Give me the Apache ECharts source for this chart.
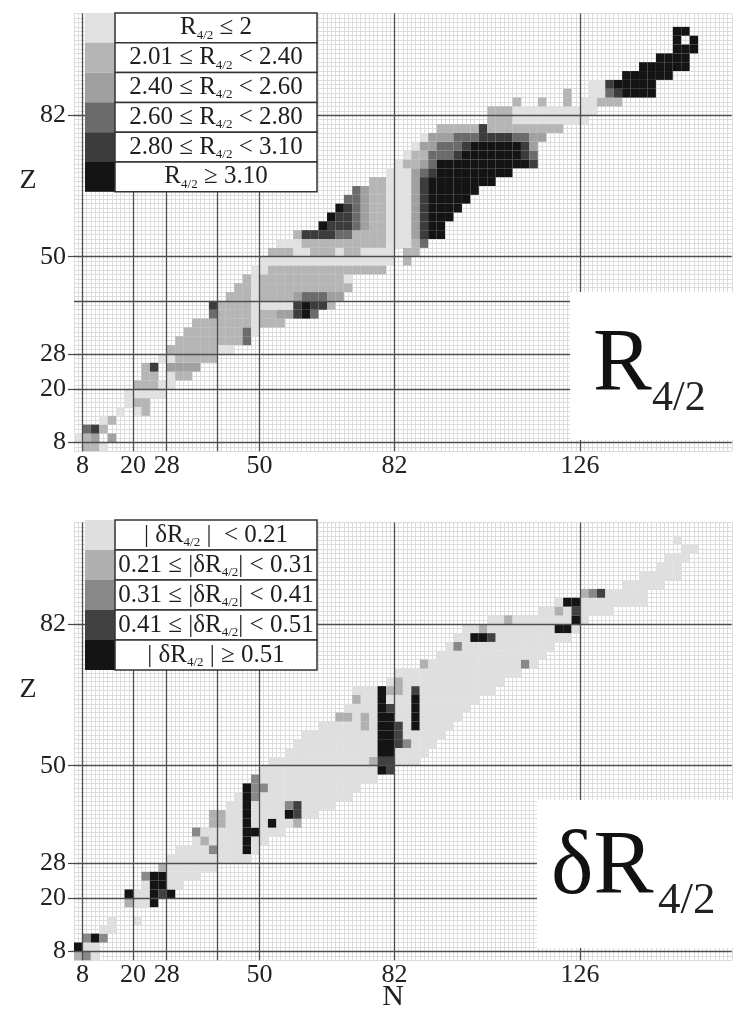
<!DOCTYPE html>
<html><head><meta charset="utf-8">
<script src="https://cdn.jsdelivr.net/npm/echarts@6/dist/echarts.min.js"></script>
<style>html,body{margin:0;padding:0;background:#fff}#c{width:734px;height:1010px}</style>
</head><body><div id="c"></div>
<script>
// ---------- tick labels / magic numbers ----------
const nLabels = [8, 20, 28, 50, 82, 126];
const zLabels = [8, 20, 28, 50, 82];
const magicN = [8, 20, 28, 40, 50, 82, 126];
const magicZTop = [8, 20, 28, 40, 50, 82];
const magicZBottom = [8, 20, 28, 50, 82];

// ---------- legend categories ----------
const r42Colors = ['#e1e1e1', '#b5b5b5', '#a0a0a0', '#6b6b6b', '#3c3c3c', '#141414'];
const r42Labels = [
  '{t|R}{s|4/2}{t| ≤ 2}',
  '{t|2.01 ≤ R}{s|4/2}{t| < 2.40}',
  '{t|2.40 ≤ R}{s|4/2}{t| < 2.60}',
  '{t|2.60 ≤ R}{s|4/2}{t| < 2.80}',
  '{t|2.80 ≤ R}{s|4/2}{t| < 3.10}',
  '{t|R}{s|4/2}{t| ≥ 3.10}'
];
const dR42Colors = ['#dfdfdf', '#b0b0b0', '#888888', '#414141', '#141414'];
const dR42Labels = [
  '{t|| δR}{s|4/2}{t| |  < 0.21}',
  '{t|0.21 ≤ |δR}{s|4/2}{t|| < 0.31}',
  '{t|0.31 ≤ |δR}{s|4/2}{t|| < 0.41}',
  '{t|0.41 ≤ |δR}{s|4/2}{t|| < 0.51}',
  '{t|| δR}{s|4/2}{t| | ≥ 0.51}'
];

// ---------- data: runs of even-even nuclei [Z-row, N from, N to (step 2), category] ----------
const r42Runs = [
 [6,8,10,1],[6,12,12,0],
 [8,6,6,0],[8,8,8,1],[8,10,10,2],[8,14,14,2],
 [10,8,8,3],[10,10,10,4],[10,12,12,1],
 [12,12,12,0],[12,14,14,1],
 [14,16,16,0],[14,20,20,0],[14,22,22,1],
 [16,18,18,0],[16,20,22,1],
 [18,18,26,0],
 [20,20,24,1],[20,26,28,0],
 [22,22,24,1],[22,28,28,0],[22,30,32,1],
 [24,22,22,1],[24,24,24,4],[24,28,34,2],
 [26,26,28,0],[26,30,38,1],
 [28,28,38,1],[28,40,42,0],
 [30,30,44,1],[30,46,46,3],
 [32,32,44,1],[32,46,46,3],[32,48,48,0],
 [34,34,46,1],[34,48,48,0],[34,50,54,1],
 [36,38,38,3],[36,40,46,1],[36,48,48,0],[36,50,52,1],[36,54,56,2],[36,58,58,4],[36,60,60,5],[36,62,62,3],
 [38,38,38,4],[38,40,46,1],[38,48,56,0],[38,58,58,4],[38,60,60,5],[38,62,64,4],[38,66,66,1],
 [40,42,46,1],[40,48,48,0],[40,50,56,1],[40,58,58,2],[40,60,64,3],[40,66,68,2],
 [42,44,46,1],[42,48,48,0],[42,50,70,1],
 [44,46,46,1],[44,48,48,0],[44,50,68,1],[44,70,70,0],
 [46,48,50,0],[46,52,72,1],[46,74,78,1],
 [48,50,80,0],[48,84,84,1],
 [50,52,56,1],[50,58,60,0],[50,62,66,1],[50,68,68,0],[50,70,72,1],[50,74,80,0],[50,84,86,1],
 [52,54,58,0],[52,60,78,1],[52,80,84,0],[52,86,86,1],[52,88,88,3],
 [54,58,58,1],[54,60,66,4],[54,68,70,3],[54,72,78,1],[54,80,84,0],[54,86,86,2],[54,88,88,4],[54,90,92,5],
 [56,64,64,5],[56,66,70,4],[56,72,72,3],[56,74,74,2],[56,76,78,1],[56,80,84,0],[56,86,86,2],[56,88,88,4],[56,90,92,5],
 [58,66,66,5],[58,68,70,4],[58,72,72,3],[58,74,74,2],[58,76,78,1],[58,80,84,0],[58,86,86,2],[58,88,88,4],[58,90,94,5],
 [60,68,68,5],[60,70,70,4],[60,72,72,3],[60,74,74,2],[60,76,78,1],[60,80,84,0],[60,86,86,2],[60,88,88,4],[60,90,96,5],
 [62,70,72,3],[62,74,74,2],[62,76,78,1],[62,80,84,0],[62,86,86,2],[62,88,88,4],[62,90,98,5],
 [64,72,72,3],[64,74,74,2],[64,76,78,1],[64,80,84,0],[64,86,86,2],[64,88,88,4],[64,90,100,5],
 [66,76,78,1],[66,80,84,0],[66,86,86,2],[66,88,88,4],[66,90,104,5],
 [68,80,84,0],[68,86,86,2],[68,88,88,3],[68,90,90,4],[68,92,108,5],
 [70,82,82,0],[70,84,86,1],[70,88,88,2],[70,90,90,3],[70,92,112,5],[70,114,114,4],
 [72,84,84,0],[72,86,88,1],[72,90,94,3],[72,96,96,4],[72,98,110,5],[72,112,112,4],[72,114,114,3],
 [74,86,86,0],[74,88,90,2],[74,92,96,3],[74,98,98,4],[74,100,110,5],[74,112,112,4],[74,114,114,2],
 [76,88,88,0],[76,90,94,2],[76,96,100,3],[76,102,108,4],[76,110,112,3],[76,114,116,2],
 [78,92,100,1],[78,102,102,4],[78,104,120,1],
 [80,104,108,1],[80,110,126,0],
 [82,104,108,1],[82,110,128,0],
 [84,110,110,1],[84,116,116,1],[84,122,122,1],[84,126,128,0],[84,130,134,1],
 [86,122,122,1],[86,128,130,0],[86,132,132,3],[86,134,134,4],[86,136,142,5],
 [88,128,130,0],[88,132,132,4],[88,134,142,5],
 [90,136,146,5],
 [92,140,150,5],
 [94,144,150,5],
 [96,148,152,5],
 [98,148,148,5],[98,152,152,5],
 [100,148,150,5]
];

const dR42Band = [
 [6,6,10,0],[8,6,10,0],[10,8,12,0],[12,12,14,0],[14,14,14,0],[14,20,20,0],
 [18,18,22,0],[20,18,28,0],[22,22,30,0],[24,22,34,0],[26,28,38,0],[28,28,46,0],
 [30,30,48,0],[32,34,50,0],[34,34,54,0],[36,38,58,0],[38,40,62,0],[40,42,66,0],
 [42,44,70,0],[44,46,72,0],[46,48,76,0],[48,50,80,0],[50,52,86,0],[52,56,88,0],
 [54,58,90,0],[56,60,92,0],[58,64,94,0],[60,68,96,0],[62,70,98,0],[64,72,100,0],
 [66,72,104,0],[68,80,106,0],[70,82,110,0],[72,88,114,0],[74,92,116,0],[76,94,118,0],
 [78,96,122,0],[80,98,124,0],[82,104,126,0],[84,116,132,0],[86,120,140,0],[88,126,140,0],
 [90,136,144,0],[92,140,148,0],[94,144,148,0],[96,146,150,0],[98,150,152,0],[100,148,148,0]
];
const dR42Marks = [
 [6,6,6,1],[6,8,8,2],[8,6,6,4],[10,8,8,2],[10,10,10,4],[10,12,12,2],
 [18,18,18,1],[18,24,24,4],[20,18,18,4],[20,24,24,4],[20,26,26,3],[20,28,28,4],
 [22,24,26,4],[24,22,22,2],[24,24,26,4],[26,26,26,1],
 [30,38,38,2],[30,46,46,4],[32,36,36,1],[32,46,46,4],[34,34,34,2],[34,46,48,4],
 [36,38,40,1],[36,46,46,4],[36,52,52,4],[36,58,58,1],
 [38,38,40,1],[38,46,46,4],[38,56,56,4],[38,58,58,3],
 [40,46,46,4],[40,56,56,2],[40,58,58,3],
 [42,46,46,4],[42,48,48,2],[44,46,46,4],[44,48,50,2],[46,48,48,2],
 [48,78,78,4],[48,80,80,3],[50,76,76,1],[50,78,80,3],
 [52,78,80,4],[54,78,80,4],[54,82,82,3],[54,84,84,2],[56,78,80,4],[56,82,82,3],
 [58,74,74,1],[58,78,80,4],[58,82,82,3],[58,86,86,4],
 [60,68,70,1],[60,74,74,1],[60,78,80,4],[60,86,86,4],
 [62,78,78,4],[62,80,80,3],[62,86,86,4],
 [64,72,72,1],[64,78,78,4],[64,86,86,4],
 [66,78,78,4],[66,80,82,1],[66,86,86,3],[68,82,82,1],
 [72,88,88,1],[72,112,112,2],[76,96,96,2],
 [78,100,102,4],[78,104,104,3],
 [80,102,102,1],[80,120,122,4],
 [82,108,108,1],[82,124,124,4],
 [84,120,120,1],[84,124,124,3],
 [86,122,124,4],
 [88,126,126,1],[88,128,128,2],[88,130,130,3]
];

// ---------- expand runs into cells ----------
function expandRuns(runs) {
  const m = new Map();
  runs.forEach(([z, n1, n2, c]) => {
    for (let n = n1; n <= n2; n += 2) m.set(n + ',' + z, [n, z, c]);
  });
  return Array.from(m.values());
}
const topCells = expandRuns(r42Runs);
const bottomCells = expandRuns(dR42Band.concat(dR42Marks));

function cellRenderer(colors) {
  return function (params, api) {
    const n = api.value(0), z = api.value(1), c = api.value(2);
    const p0 = api.coord([n, z + 2]);
    const p1 = api.coord([n + 2, z]);
    return {
      type: 'rect',
      shape: { x: p0[0], y: p0[1], width: p1[0] - p0[0], height: p1[1] - p0[1] },
      style: { fill: colors[c] }
    };
  };
}

// ---------- layout ----------
const GL = 73.96, GW = 657.85, GH = 437.58;
const TOPS = [13.6, 522.6];
const serif = '"Liberation Serif","DejaVu Serif",serif';

const grids = TOPS.map(t => ({ left: GL, top: t, width: GW, height: GH, containLabel: false }));

function xPrimary(gi) {
  return { type: 'value', gridIndex: gi, min: 6, max: 162, interval: 1,
    axisLine: { show: false, onZero: false }, axisTick: { show: false }, axisLabel: { show: false },
    splitLine: { show: true, lineStyle: { color: '#dcdcdc', width: 1 } } };
}
function xLabels(gi) {
  return { type: 'value', gridIndex: gi, min: 6, max: 162, position: 'bottom',
    axisLine: { show: false, onZero: false }, axisTick: { show: false }, splitLine: { show: false },
    axisLabel: { show: true, customValues: nLabels, margin: 2, fontFamily: serif, fontSize: 26, color: '#222' } };
}
function yPrimary(gi) {
  return { type: 'value', gridIndex: gi, min: 6, max: 105, interval: 1,
    axisLine: { show: false, onZero: false }, axisTick: { show: false }, axisLabel: { show: false },
    splitLine: { show: true, lineStyle: { color: '#dcdcdc', width: 1 } } };
}
function yLabels(gi) {
  return { type: 'value', gridIndex: gi, min: 6, max: 105, position: 'left', offset: 0,
    axisLine: { show: false, onZero: false }, splitLine: { show: false },
    axisTick: { show: true, customValues: zLabels, length: 6, lineStyle: { color: '#444', width: 1.2 } },
    axisLabel: { show: true, customValues: zLabels, margin: 8, fontFamily: serif, fontSize: 26, color: '#222' } };
}

function magicLines(zs) {
  return {
    silent: true, symbol: 'none', animation: false,
    label: { show: false },
    lineStyle: { color: '#4d4d4d', width: 1.3, type: 'solid' },
    data: magicN.map(v => ({ xAxis: v })).concat(zs.map(v => ({ yAxis: v })))
  };
}

// ---------- legend tables & titles (graphic) ----------
function legendTable(top, rowH, colors, labels) {
  const els = [];
  colors.forEach((col, i) => {
    const y = top + i * rowH;
    els.push({ type: 'rect', z: 100, shape: { x: 85, y: y, width: 30, height: rowH }, style: { fill: col } });
    els.push({ type: 'rect', z: 100, shape: { x: 115, y: y, width: 202, height: rowH }, style: { fill: '#fff', stroke: '#333', lineWidth: 1.5 } });
    els.push({ type: 'text', z: 101, x: 216, y: y + rowH / 2,
      style: { text: labels[i], align: 'center', verticalAlign: 'middle',
        rich: {
          t: { fontSize: 25, fontFamily: serif, fill: '#1e1e1e', lineHeight: 28 },
          s: { fontSize: 13, fontFamily: serif, fill: '#1e1e1e', lineHeight: 10, verticalAlign: 'bottom' }
        } } });
  });
  return els;
}

const graphics = [
  ...legendTable(13, 29.8, r42Colors, r42Labels),
  ...legendTable(520, 30, dR42Colors, dR42Labels),
  { type: 'rect', z: 90, shape: { x: 570, y: 292, width: 164, height: 148 }, style: { fill: '#fff' } },
  { type: 'text', z: 95, x: 593, y: 366, style: { text: 'R', font: '88px ' + serif, fill: '#111', align: 'left', verticalAlign: 'middle' } },
  { type: 'text', z: 95, x: 652, y: 399, style: { text: '4/2', font: '42px ' + serif, fill: '#222', align: 'left', verticalAlign: 'middle' } },
  { type: 'rect', z: 90, shape: { x: 537, y: 800, width: 197, height: 148 }, style: { fill: '#fff' } },
  { type: 'text', z: 95, x: 551, y: 869, style: { text: 'δR', font: '90px ' + serif, fill: '#111', align: 'left', verticalAlign: 'middle' } },
  { type: 'text', z: 95, x: 658, y: 901, style: { text: '4/2', font: '45px ' + serif, fill: '#222', align: 'left', verticalAlign: 'middle' } },
  { type: 'text', z: 95, x: 28, y: 181, style: { text: 'Z', font: '28px ' + serif, fill: '#222', align: 'center', verticalAlign: 'middle' } },
  { type: 'text', z: 95, x: 28, y: 690, style: { text: 'Z', font: '28px ' + serif, fill: '#222', align: 'center', verticalAlign: 'middle' } },
  { type: 'text', z: 95, x: 393, y: 997, style: { text: 'N', font: '30px ' + serif, fill: '#222', align: 'center', verticalAlign: 'middle' } }
];

const chart = echarts.init(document.getElementById('c'), null, { renderer: 'canvas' });
chart.setOption({
  animation: false,
  backgroundColor: '#fff',
  grid: grids,
  xAxis: [xPrimary(0), xLabels(0), xPrimary(1), xLabels(1)],
  yAxis: [yPrimary(0), yLabels(0), yPrimary(1), yLabels(1)],
  series: [
    { type: 'custom', name: 'R4/2', xAxisIndex: 0, yAxisIndex: 0, data: topCells,
      encode: { x: 0, y: 1 }, renderItem: cellRenderer(r42Colors), markLine: magicLines(magicZTop) },
    { type: 'custom', name: 'δR4/2', xAxisIndex: 2, yAxisIndex: 2, data: bottomCells,
      encode: { x: 0, y: 1 }, renderItem: cellRenderer(dR42Colors), markLine: magicLines(magicZBottom) }
  ],
  graphic: graphics
});
</script>
</body></html>
